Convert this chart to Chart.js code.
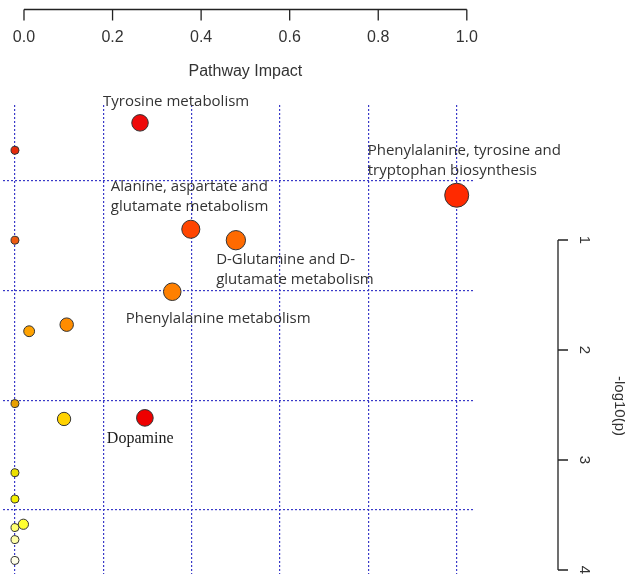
<!DOCTYPE html>
<html>
<head>
<meta charset="utf-8">
<script src="https://cdn.jsdelivr.net/npm/chart.js@4/dist/chart.umd.min.js"></script>
<style>
  html, body { margin: 0; padding: 0; background: #ffffff; }
  canvas { display: block; }
</style>
</head>
<body>
<canvas id="chart" width="625" height="579"></canvas>
<script>
// Pathway names (only the annotated pathways carry a name)
const pathwayNames = [
  'Tyrosine metabolism', '', 'Phenylalanine, tyrosine and\ntryptophan biosynthesis',
  'Alanine, aspartate and\nglutamate metabolism', 'D-Glutamine and D-\nglutamate metabolism', '',
  'Phenylalanine metabolism', '', '', '', '', 'Dopamine', '', '', '', '', '', ''
];
// Pathway impact of each pathway
const pathwayImpact = [0.283, 0, 1.0, 0.398, 0.5, 0, 0.356, 0.117, 0.032, 0, 0.111, 0.294, 0, 0, 0.019, 0, 0, 0];
// Significance of each pathway, -log10(p)
const negLog10P = [4.53, 4.28, 3.87, 3.56, 3.46, 3.46, 2.99, 2.69, 2.63, 1.97, 1.83, 1.84, 1.34, 1.10, 0.87, 0.84, 0.73, 0.54];

// Tick labels of the two drawn axes
const impactTicks = [0.0, 0.2, 0.4, 0.6, 0.8, 1.0];
const pValueTicks = [1, 2, 3, 4];
// Grid positions in data units
const impactGrid = [0, 0.2, 0.4, 0.6, 0.8, 1.0];
const pValueGrid = [1, 2, 3, 4];

// Node fill colours (heat scale)
const nodeColors = [
  '#ee0a0a', '#e52a0a', '#ff2a00', '#ff4500', '#ff6a00', '#ee5a10',
  '#ff8000', '#ff8c00', '#ffa200', '#e8a000', '#ffd200', '#ee0000',
  '#ece000', '#f4f000', '#ffff30', '#ffff70', '#ffffa8', '#ffffea'
];

// Label placement relative to its node (pixels)
const labelPlacement = {
  0:  { dx: -37, dy: -21.6, font: '15px "Open Sans"' },
  2:  { dx: -89, dy: -45,   font: '15px "Open Sans"' },
  3:  { dx: -80, dy: -42.6, font: '15px "Open Sans"' },
  4:  { dx: -19.7, dy: 20,  font: '15px "Open Sans"' },
  6:  { dx: -46.6, dy: 26.7, font: '15px "Open Sans"' },
  11: { dx: -38, dy: 20.7,  font: '16px "Liberation Serif"' }
};

const points = pathwayImpact.map((v, i) => ({ x: v, y: negLog10P[i] }));

// Labels next to the annotated nodes
const nodeLabels = {
  id: 'nodeLabels',
  afterDatasetsDraw(chart) {
    const ctx = chart.ctx;
    const meta = chart.getDatasetMeta(0);
    ctx.save();
    ctx.textAlign = 'left';
    ctx.textBaseline = 'middle';
    Object.keys(labelPlacement).forEach(k => {
      const i = +k;
      const p = labelPlacement[k];
      const el = meta.data[i];
      ctx.font = p.font;
      ctx.fillStyle = i === 11 ? '#1a1a1a' : '#333333';
      pathwayNames[i].split('\n').forEach((line, j) => {
        ctx.fillText(line, el.x + p.dx, el.y + p.dy + j * 20);
      });
    });
    ctx.restore();
  }
};

// Top "Pathway Impact" axis and right "-log10(p)" axis
const outerAxes = {
  id: 'outerAxes',
  afterDraw(chart) {
    const ctx = chart.ctx;
    const xs = chart.scales.xTop;
    const ys = chart.scales.yRight;
    ctx.save();
    ctx.strokeStyle = '#222222';
    ctx.lineWidth = 1.3;
    ctx.fillStyle = '#333333';

    // top axis
    const axisY = 9.5;
    const x0 = xs.getPixelForValue(impactTicks[0]);
    const x1 = xs.getPixelForValue(impactTicks[impactTicks.length - 1]);
    ctx.beginPath();
    ctx.moveTo(x0, axisY); ctx.lineTo(x1, axisY);
    impactTicks.forEach(t => {
      const px = xs.getPixelForValue(t);
      ctx.moveTo(px, axisY); ctx.lineTo(px, axisY + 11);
    });
    ctx.stroke();
    ctx.font = '16px "Liberation Sans"';
    ctx.textAlign = 'center';
    ctx.textBaseline = 'middle';
    impactTicks.forEach(t => {
      ctx.fillText(t.toFixed(1), xs.getPixelForValue(t), 38);
    });
    ctx.fillText('Pathway Impact', xs.getPixelForValue(0.5), 72);

    // right axis
    const axisX = 558;
    const y0 = ys.getPixelForValue(pValueTicks[0]);
    const y1 = ys.getPixelForValue(pValueTicks[pValueTicks.length - 1]);
    ctx.beginPath();
    ctx.moveTo(axisX, y0); ctx.lineTo(axisX, y1);
    pValueTicks.forEach(t => {
      const py = ys.getPixelForValue(t);
      ctx.moveTo(axisX, py); ctx.lineTo(axisX + 10, py);
    });
    ctx.stroke();
    ctx.font = '15px "Liberation Sans"';
    pValueTicks.forEach(t => {
      ctx.save();
      ctx.translate(584, ys.getPixelForValue(t));
      ctx.rotate(Math.PI / 2);
      ctx.fillText(String(t), 0, 0);
      ctx.restore();
    });
    ctx.save();
    ctx.translate(619, 406);
    ctx.rotate(Math.PI / 2);
    ctx.fillText('-log10(p)', 0, 0);
    ctx.restore();
    ctx.restore();
  }
};

const gridColor = '#3a3ac8';

new Chart(document.getElementById('chart'), {
  type: 'scatter',
  data: {
    datasets: [{
      data: points,
      backgroundColor: nodeColors,
      borderColor: '#333333',
      borderWidth: 1,
      pointRadius: ctx => 4 + 8 * Math.sqrt(pathwayImpact[ctx.dataIndex] || 0),
      pointHoverRadius: ctx => 4 + 8 * Math.sqrt(pathwayImpact[ctx.dataIndex] || 0)
    }]
  },
  options: {
    responsive: false,
    animation: false,
    events: [],
    layout: { autoPadding: false, padding: { left: 3, top: 105, right: 150, bottom: 5 } },
    plugins: { legend: { display: false }, tooltip: { enabled: false } },
    scales: {
      x: {
        type: 'linear',
        min: -0.0272, max: 1.0414,
        afterBuildTicks: s => { s.ticks = impactGrid.map(v => ({ value: v })); },
        ticks: { display: false },
        border: { display: false, dash: [2, 2] },
        grid: { color: gridColor, lineWidth: 1.2, drawTicks: false }
      },
      y: {
        type: 'linear',
        min: 0.4164, max: 4.6929,
        afterBuildTicks: s => { s.ticks = pValueGrid.map(v => ({ value: v })); },
        ticks: { display: false },
        border: { display: false, dash: [2, 2] },
        grid: { color: gridColor, lineWidth: 1.2, drawTicks: false }
      },
      xTop: {
        type: 'linear', position: 'top', display: false,
        min: -0.0474, max: 1.0185
      },
      yRight: {
        type: 'linear', position: 'right', display: false, reverse: true,
        min: -0.2273, max: 4.0364
      }
    }
  },
  plugins: [nodeLabels, outerAxes]
});
</script>
</body>
</html>
